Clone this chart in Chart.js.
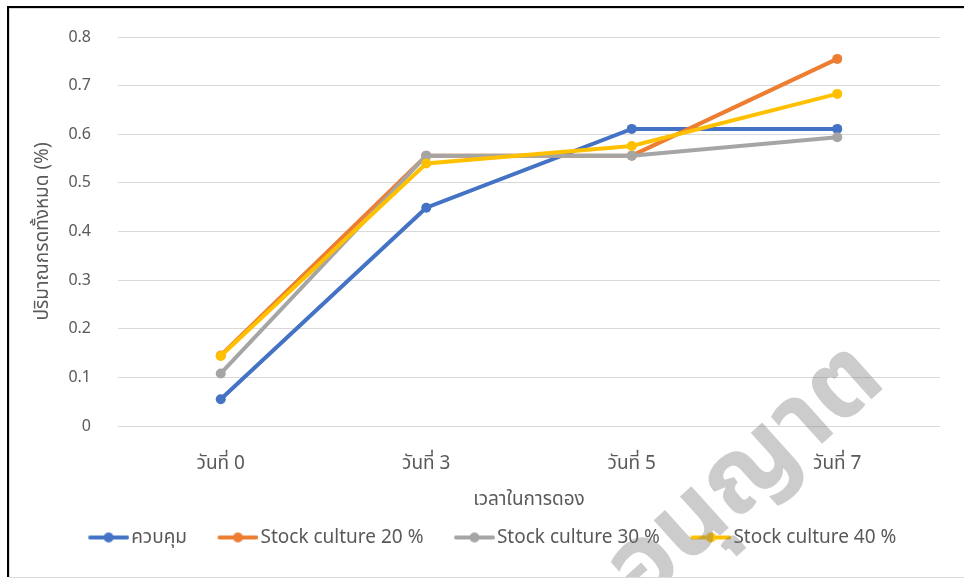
<!DOCTYPE html>
<html>
<head>
<meta charset="utf-8">
<script src="https://cdn.jsdelivr.net/npm/chart.js@4.4.1/dist/chart.umd.min.js"></script>
<style>
  html, body { margin: 0; padding: 0; background: #fff; }
  #wrap { position: relative; width: 964px; height: 578px; }
  #frame { position: absolute; left: 7px; top: 6px; right: -10px; bottom: 1px;
           border-top: 2px solid #000; border-left: 2px solid #000; pointer-events: none; }
  #inner { position: absolute; left: 0; top: 0; right: 0; bottom: -1px;
           border-top: 1px solid #d9d9d9; border-left: 1px solid #d9d9d9; border-bottom: 1px solid #d9d9d9; }
  canvas { position: absolute; left: 0; top: 0; }
</style>
</head>
<body>
<div id="wrap">
  <canvas id="c" width="964" height="578"></canvas>
  <div id="frame"><div id="inner"></div></div>
</div>
<script>
const categories = ['วันที่ 0', 'วันที่ 3', 'วันที่ 5', 'วันที่ 7'];
const seriesNames = ['ควบคุม', 'Stock culture 20 %', 'Stock culture 30 %', 'Stock culture 40 %'];
const control = [0.055, 0.449, 0.611, 0.611];
const stock20 = [0.145, 0.556, 0.556, 0.755];
const stock30 = [0.108, 0.556, 0.556, 0.594];
const stock40 = [0.144, 0.540, 0.576, 0.683];
const yTicks = [0, 0.1, 0.2, 0.3, 0.4, 0.5, 0.6, 0.7, 0.8];
const xTitle = 'เวลาในการดอง';
const yTitle = 'ปริมาณกรดทั้งหมด (%)';
const watermark = 'อนุญาต';

const colors = ['#4472C4', '#ED7D31', '#A5A5A5', '#FFC000'];
const FONT = "'Noto Sans', 'Noto Sans Thai', Tahoma, sans-serif";
const BOX = 54;

function marker(color) {
  const c = document.createElement('canvas');
  c.width = BOX + 15; c.height = 12;
  const g = c.getContext('2d');
  const x0 = BOX - 26;
  g.strokeStyle = color; g.lineWidth = 4; g.lineCap = 'round';
  g.beginPath(); g.moveTo(x0 + 2, 6); g.lineTo(x0 + 39, 6); g.stroke();
  g.fillStyle = color; g.beginPath(); g.arc(x0 + 20.5, 6, 5, 0, Math.PI * 2); g.fill();
  return c;
}
const markers = colors.map(marker);

const allData = [control, stock20, stock30, stock40];
const datasets = allData.map((d, i) => ({
  label: seriesNames[i],
  data: d,
  borderColor: colors[i],
  backgroundColor: colors[i],
  borderWidth: 4,
  pointRadius: 5,
  pointHoverRadius: 5,
  pointBorderWidth: 0,
  tension: 0,
  order: 4 - i
}));

const wmPlugin = {
  id: 'wm',
  afterDraw(chart) {
    const ctx = chart.ctx;
    ctx.save();
    ctx.translate(745, 474);
    ctx.rotate(-42 * Math.PI / 180);
    ctx.font = "bold 102px " + FONT;
    ctx.textAlign = 'center';
    ctx.textBaseline = 'middle';
    ctx.fillStyle = 'rgba(120,120,120,0.38)';
    ctx.fillText(watermark, 0, 0);
    ctx.restore();
  }
};

new Chart(document.getElementById('c'), {
  type: 'line',
  data: { labels: categories, datasets },
  plugins: [wmPlugin],
  options: {
    responsive: false,
    animation: false,
    layout: { padding: { left: 0, right: 0, top: 37, bottom: 21 } },
    plugins: {
      tooltip: { enabled: false },
      legend: {
        position: 'bottom',
        labels: {
          usePointStyle: true,
          pointStyleWidth: BOX,
          color: '#595959',
          font: { family: FONT, size: 19 },
          padding: 10,
          sort: (a, b) => a.datasetIndex - b.datasetIndex,
          generateLabels(chart) {
            const items = Chart.defaults.plugins.legend.labels.generateLabels(chart);
            items.forEach(it => { it.pointStyle = markers[it.datasetIndex]; it.lineWidth = 0; });
            return items;
          }
        }
      }
    },
    scales: {
      x: {
        offset: true,
        grid: { display: false, drawTicks: false },
        border: { display: false },
        ticks: { color: '#595959', font: { family: FONT, size: 19 }, padding: 26, maxRotation: 0 },
        title: { display: true, text: xTitle, color: '#595959', font: { family: FONT, size: 19 }, padding: { top: 0, bottom: 7 } },
        afterFit(s) { s.height = 92; }
      },
      y: {
        min: 0, max: 0.8,
        afterBuildTicks(s) { s.ticks = yTicks.map(v => ({ value: v })); },
        grid: { color: '#d9d9d9', lineWidth: 1, drawTicks: false },
        border: { display: false },
        ticks: {
          color: '#595959', font: { family: FONT, size: 16 }, padding: 27,
          callback: v => (v === 0 ? '0' : v.toFixed(1))
        },
        title: { display: true, text: yTitle, color: '#595959', font: { family: FONT, size: 19 }, padding: { top: 31, bottom: 0 } },
        afterFit(s) { s.width = 118; }
      },
      yRight: {
        position: 'right',
        display: true,
        grid: { display: false, drawTicks: false },
        border: { display: false },
        ticks: { display: false },
        afterFit(s) { s.width = 24; }
      }
    }
  }
});
</script>
</body>
</html>
